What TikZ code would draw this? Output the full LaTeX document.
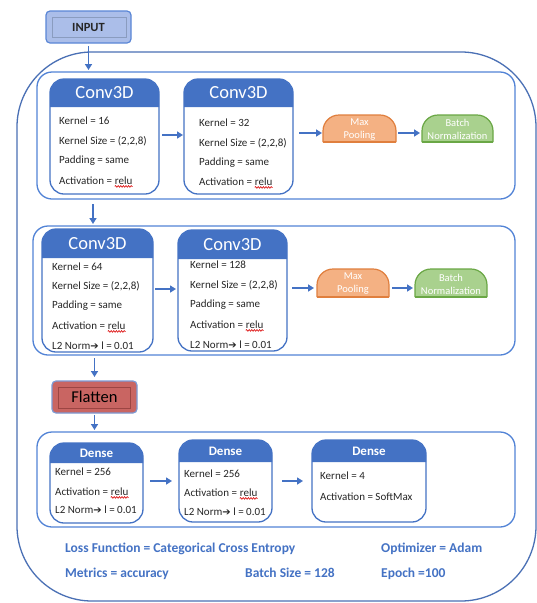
\documentclass[tikz,border=0pt]{standalone}
\usepackage{fontspec}
\setmainfont{Carlito}
\newfontfamily\symfont{DejaVu Sans}
\usetikzlibrary{arrows.meta,decorations.pathmorphing}
\definecolor{hdr}{HTML}{4472C4}
\definecolor{cardline}{HTML}{4472C4}
\definecolor{rowline}{HTML}{5283D6}
\definecolor{outerline}{HTML}{4A70B5}
\definecolor{arrowblue}{HTML}{4472C4}
\definecolor{textgray}{HTML}{262626}
\definecolor{btmblue}{HTML}{4472C4}
\definecolor{mpfill}{HTML}{F4B183}
\definecolor{mpdraw}{HTML}{E07F3E}
\definecolor{bnfill}{HTML}{A9D18E}
\definecolor{bndraw}{HTML}{6AA745}
\definecolor{infill}{HTML}{ABBEE9}
\definecolor{indraw}{HTML}{5A86D6}
\definecolor{ininner}{HTML}{8A9CBF}
\definecolor{flfill}{HTML}{C96562}
\definecolor{fldraw}{HTML}{7D9AD4}
\definecolor{flinner}{HTML}{9C4543}
\definecolor{squig}{HTML}{E02020}
\newcommand\arw{{\symfont\fontsize{10}{10}\selectfont ➔}}
\newcommand\cardshape[3]{%
  \fill[hdr, rounded corners=15pt] ([yshift=-#2pt]#1.north west) -- (#1.north west) -- (#1.north east) -- ([yshift=-#2pt]#1.north east);
  \draw[cardline, line width=1.3pt, rounded corners=14pt] (#1.north) -- (#1.north east) -- (#1.south east) -- (#1.south west) -- (#1.north west) -- (#1.north);
  \node[title] (#1h) at ([yshift=-#2*0.5pt]#1.north) {#3};
}
\newcommand\domeshape[2]{%
  \draw[#2, line width=1.2pt, rounded corners=16pt] (#1.south west) -- (#1.north west) -- (#1.north east) -- (#1.south east);
  \draw[#2, line width=1.2pt] (#1.south west) -- (#1.south east);
}
% "relu" with red wavy underline, placed after node #2, named #1
\newcommand\reluat[2]{%
  \node[ctext, anchor=base west] (#1) at ([xshift=2.6pt]#2.base east) {relu};
  \draw[squig, line width=0.7pt, decorate, decoration={snake, amplitude=0.8pt, segment length=2.6pt}] ([yshift=-2.4pt]#1.base west) -- ([yshift=-2.4pt]#1.base east);
}
\begin{document}
\begin{tikzpicture}[x=1pt, y=-1pt,
  box/.style={inner sep=0pt, outer sep=0pt, anchor=north west},
  title/.style={inner sep=0pt, text=white},
  ctext/.style={anchor=base west, inner sep=0pt, font=\fontsize{11}{13}\selectfont, text=textgray},
  mtext/.style={inner sep=0pt, align=center, text=white, font=\fontsize{10.5}{13}\selectfont},
  btext/.style={anchor=base west, inner sep=0pt, font=\bfseries\fontsize{13.5}{16}\selectfont, text=btmblue},
  rowbox/.style={draw=rowline, line width=1.3pt, rounded corners=15pt},
  arr/.style={draw=arrowblue, line width=1.6pt, -{Triangle[length=6pt,width=7pt]}},
]
\useasboundingbox (0,0) rectangle (537,603);
\fill[white] (0,0) rectangle (537,603);

% outer frame
\draw[outerline, line width=1.3pt, rounded corners=75pt] (17,52) rectangle (536,601);

% INPUT
\node[box, minimum width=85pt, minimum height=32pt, fill=infill, draw=indraw, line width=1.2pt, rounded corners=4pt] (input) at (46,11) {};
\draw[ininner, line width=0.8pt] ([shift={(6pt,-6pt)}]input.north west) rectangle ([shift={(-5pt,6pt)}]input.south east);
\node[inner sep=0pt, font=\bfseries\fontsize{12.5}{14}\selectfont, text=textgray] (inputt) at (input.center) {INPUT};

% row boxes
\node[box, rowbox, minimum width=478pt, minimum height=127pt] (row1) at (37,72) {};
\node[box, rowbox, minimum width=482pt, minimum height=129pt] (row2) at (33,226) {};
\node[box, rowbox, minimum width=478pt, minimum height=95pt] (row3) at (37,432) {};

% ---------- row 1 ----------
\node[box, fill=white, minimum width=109pt, minimum height=115pt] (c1) at (50,79) {};
\cardshape{c1}{28}{\fontsize{18.5}{20}\selectfont Conv3D}
\node[ctext] (c1a) at (59,124) {Kernel = 16};
\node[ctext] (c1b) at (59,144) {Kernel Size = (2,2,8)};
\node[ctext] (c1c) at (59,163) {Padding = same};
\node[ctext] (c1d) at (59,184) {Activation =};
\reluat{c1r}{c1d}

\node[box, fill=white, minimum width=109pt, minimum height=115pt] (c2) at (184,79) {};
\cardshape{c2}{28}{\fontsize{18.5}{20}\selectfont Conv3D}
\node[ctext] (c2a) at (199,126) {Kernel = 32};
\node[ctext] (c2b) at (199,146) {Kernel Size = (2,2,8)};
\node[ctext] (c2c) at (199,165) {Padding = same};
\node[ctext] (c2d) at (199,185) {Activation =};
\reluat{c2r}{c2d}

\node[box, minimum width=73pt, minimum height=27pt] (mp1) at (323,115) {};
\node[box, minimum width=71pt, minimum height=27pt] (bn1) at (422,115) {};
\fill[mpfill, rounded corners=16pt] (mp1.south west) -- (mp1.north west) -- (mp1.north east) -- (mp1.south east);
\fill[bnfill, rounded corners=16pt] (bn1.south west) -- (bn1.north west) -- (bn1.north east) -- (bn1.south east);
\domeshape{mp1}{mpdraw}
\domeshape{bn1}{bndraw}
\node[mtext] (mp1t) at ([yshift=-1pt]mp1.center) {Max\\Pooling};
\node[mtext] (bn1t) at ([yshift=-1pt]bn1.center) {Batch\\Normalization};

\draw[arr, shorten <=3pt, shorten >=1pt] ([yshift=1.5pt]c1.east) -- ([yshift=1.5pt]c1.east -| c2.west);
\draw[arr, shorten <=6pt, shorten >=1pt] ([yshift=3.5pt]c2.east) -- ([yshift=3.5pt]c2.east -| mp1.west);
\draw[arr, shorten <=2pt, shorten >=2pt] ([yshift=-4.5pt]mp1.east) -- ([yshift=-4.5pt]mp1.east -| bn1.west);

% ---------- row 2 ----------
\node[box, fill=white, minimum width=111pt, minimum height=123pt] (c3) at (42,229) {};
\cardshape{c3}{29}{\fontsize{18.5}{20}\selectfont Conv3D}
\node[ctext] (c3a) at (52,270) {Kernel = 64};
\node[ctext] (c3b) at (52,289) {Kernel Size = (2,2,8)};
\node[ctext] (c3c) at (52,308) {Padding = same};
\node[ctext] (c3d) at (52,329) {Activation =};
\reluat{c3r}{c3d}
\node[ctext] (c3e) at (52,349) {L2 Norm\arw\ l = 0.01};

\node[box, fill=white, minimum width=109pt, minimum height=121pt] (c4) at (178,230) {};
\cardshape{c4}{29}{\fontsize{18.5}{20}\selectfont Conv3D}
\node[ctext] (c4a) at (190,268) {Kernel = 128};
\node[ctext] (c4b) at (190,288) {Kernel Size = (2,2,8)};
\node[ctext] (c4c) at (190,307) {Padding = same};
\node[ctext] (c4d) at (190,328) {Activation =};
\reluat{c4r}{c4d}
\node[ctext] (c4e) at (190,348) {L2 Norm\arw\ l = 0.01};

\node[box, minimum width=72pt, minimum height=28pt] (mp2) at (317,269) {};
\node[box, minimum width=72pt, minimum height=28pt] (bn2) at (415,269) {};
\fill[mpfill, rounded corners=16pt] (mp2.south west) -- (mp2.north west) -- (mp2.north east) -- (mp2.south east);
\fill[bnfill, rounded corners=16pt] (bn2.south west) -- (bn2.north west) -- (bn2.north east) -- (bn2.south east);
\domeshape{mp2}{mpdraw}
\domeshape{bn2}{bndraw}
\node[mtext] (mp2t) at ([yshift=-1pt]mp2.center) {Max\\Pooling};
\node[mtext] (bn2t) at ([yshift=-1pt]bn2.center) {Batch\\Normalization};

\draw[arr, shorten <=2pt, shorten >=2pt] ([yshift=1.5pt]c3.east) -- ([yshift=1.5pt]c3.east -| c4.west);
\draw[arr, shorten <=5pt, shorten >=3pt] ([yshift=2.5pt]c4.east) -- ([yshift=2.5pt]c4.east -| mp2.west);
\draw[arr, shorten <=3pt, shorten >=2pt] ([yshift=-5pt]mp2.east) -- ([yshift=-5pt]mp2.east -| bn2.west);

% ---------- Flatten ----------
\node[box, minimum width=85pt, minimum height=32pt, fill=flfill, draw=fldraw, line width=1.2pt, rounded corners=4pt] (flat) at (52,381) {};
\draw[flinner, line width=0.8pt] ([shift={(6pt,-6pt)}]flat.north west) rectangle ([shift={(-7pt,5pt)}]flat.south east);
\node[inner sep=0pt, font=\fontsize{16.5}{18}\selectfont, text=black] (flatt) at (flat.center) {Flatten};

% ---------- row 3 ----------
\node[box, fill=white, minimum width=93pt, minimum height=80pt] (d1) at (50,443) {};
\cardshape{d1}{20}{\bfseries\fontsize{13}{15}\selectfont Dense}
\node[ctext] (d1a) at (55,475) {Kernel = 256};
\node[ctext] (d1b) at (55,495) {Activation =};
\reluat{d1r}{d1b}
\node[ctext] (d1c) at (55,513) {L2 Norm\arw\ l = 0.01};

\node[box, fill=white, minimum width=93pt, minimum height=82pt] (d2) at (179,440) {};
\cardshape{d2}{22}{\bfseries\fontsize{13}{15}\selectfont Dense}
\node[ctext] (d2a) at (184,477) {Kernel = 256};
\node[ctext] (d2b) at (184,496) {Activation =};
\reluat{d2r}{d2b}
\node[ctext] (d2c) at (184,515) {L2 Norm\arw\ l = 0.01};

\node[box, fill=white, minimum width=114pt, minimum height=82pt] (d3) at (312,440) {};
\cardshape{d3}{22}{\bfseries\fontsize{13}{15}\selectfont Dense}
\node[ctext] (d3a) at (320,479) {Kernel = 4};
\node[ctext] (d3b) at (320,500) {Activation = SoftMax};

\draw[arr, shorten <=7pt, shorten >=7pt] ([yshift=2pt]d1.east) -- ([yshift=2pt]d1.east -| d2.west);
\draw[arr, shorten <=10pt, shorten >=9pt] (d2.east) -- (d2.east -| d3.west);

% ---------- vertical arrows ----------
\draw[arr, shorten <=3pt, shorten >=2pt] (input.south) -- (input.south |- row1.north);
\draw[arr, shorten <=5pt, shorten >=2pt] ([xshift=56pt]row1.south west) -- ([xshift=56pt]row1.south west |- row2.north);
\draw[arr, shorten <=3pt, shorten >=4pt] (flat.north |- row2.south) -- (flat.north);
\draw[arr, shorten <=2pt, shorten >=2pt] (flat.south) -- (flat.south |- row3.north);

% ---------- bottom texts ----------
\node[btext] (loss) at (65,552) {Loss Function = Categorical Cross Entropy};
\node[btext] (opt) at (381,552) {Optimizer = Adam};
\node[btext] (met) at (65,577) {Metrics = accuracy};
\node[btext] (bs) at (245,577) {Batch Size = 128};
\node[btext] (ep) at (381,577) {Epoch =100};
\end{tikzpicture}
\end{document}
